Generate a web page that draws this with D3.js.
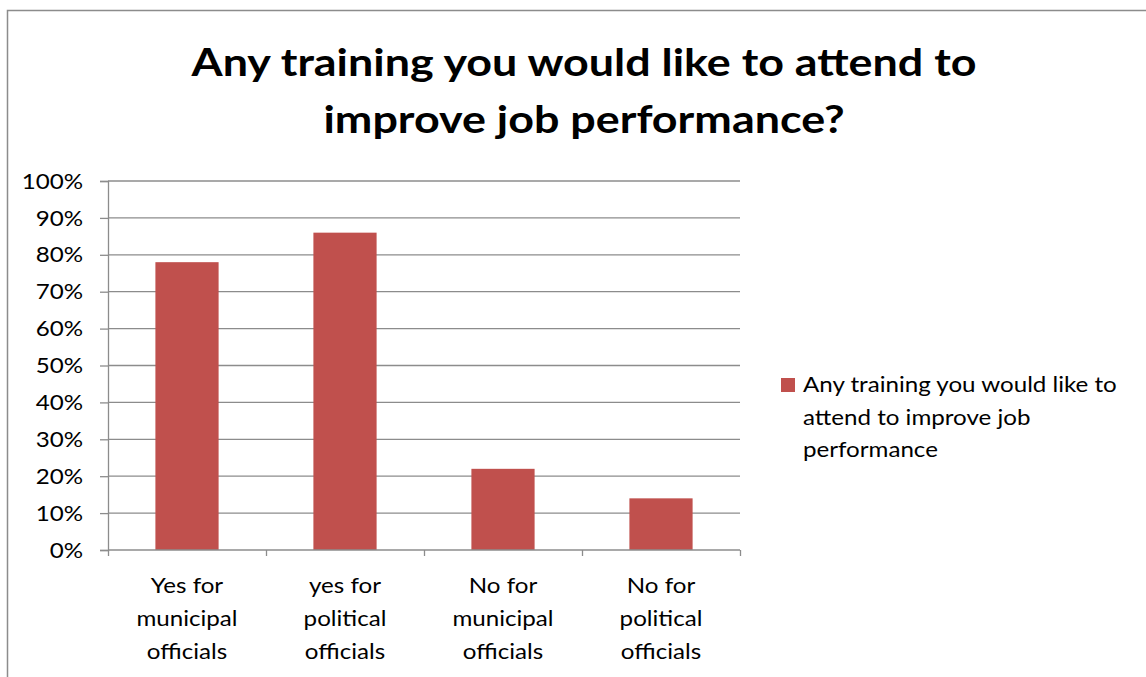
<!DOCTYPE html>
<html>
<head>
<meta charset="utf-8">
<script src="https://cdn.jsdelivr.net/npm/d3@7"></script>
<style>
  html, body { margin: 0; padding: 0; background: #fff; overflow: hidden; }
  svg { display: block; }
  text { font-family: Lato, "Open Sans", "Liberation Sans", sans-serif; fill: #000; }
</style>
</head>
<body>
<svg id="chart" width="1146" height="677"></svg>
<script>
// Chart data
const categories = [
  ["Yes for", "municipal", "officials"],
  ["yes for", "political", "officials"],
  ["No for", "municipal", "officials"],
  ["No for", "political", "officials"]
];
const values = [0.78, 0.86, 0.22, 0.14];
const yTicks = [0, 0.1, 0.2, 0.3, 0.4, 0.5, 0.6, 0.7, 0.8, 0.9, 1.0];
const titleLines = ["Any training you would like to attend to", "improve job performance?"];
const seriesName = ["Any training you would like to", "attend to improve job", "performance"];

const svg = d3.select("#chart");
const W = 1146, H = 677;
const barColor = "#C0504D";
const gridColor = "#8c8c8c";
const stretch = 1.15;     // horizontal widening of the type
const bodySize = 21;

// places a (horizontally widened) text element at (x, y)
function label(parent, x, y, str, opts = {}) {
  return parent.append("text")
    .attr("transform", `translate(${x},${y}) scale(${stretch},1)`)
    .attr("text-anchor", opts.anchor || "start")
    .attr("font-size", opts.size || bodySize)
    .attr("font-weight", opts.weight || "normal")
    .attr("dy", opts.dy || null)
    .text(str);
}

// outer frame (only left and top edges fall inside the canvas)
svg.append("rect")
  .attr("x", 7.5).attr("y", 10.5)
  .attr("width", W + 10).attr("height", H + 10)
  .attr("fill", "#fff").attr("stroke", gridColor).attr("stroke-width", 1.5);

// title
const title = svg.append("g");
titleLines.forEach((t, i) => {
  label(title, 584, 76 + i * 57, t, { anchor: "middle", size: 39, weight: "bold" });
});

const plot = { left: 108, right: 740, top: 181, bottom: 550 };
const x = d3.scaleBand().domain(d3.range(categories.length))
  .range([plot.left, plot.right]).paddingInner(0.6).paddingOuter(0.3);
const y = d3.scaleLinear().domain([0, 1]).range([plot.bottom, plot.top]);

// horizontal gridlines
svg.append("g").selectAll("line").data(yTicks.slice(1)).join("line")
  .attr("x1", plot.left).attr("x2", plot.right)
  .attr("y1", d => y(d)).attr("y2", d => y(d))
  .attr("stroke", gridColor).attr("stroke-width", 1.3);

// y axis
const yAxis = svg.append("g")
  .attr("transform", `translate(${plot.left},0)`)
  .call(d3.axisLeft(y).tickValues(yTicks).tickFormat(d3.format(".0%")).tickSize(8).tickPadding(17));
yAxis.select(".domain").attr("stroke", gridColor).attr("stroke-width", 1.3);
yAxis.selectAll(".tick line").attr("stroke", gridColor).attr("stroke-width", 1.3);
yAxis.selectAll(".tick text")
  .attr("font-size", bodySize).attr("font-family", "Lato, sans-serif").attr("fill", "#000")
  .attr("x", 0).attr("dy", "0.34em")
  .attr("transform", `translate(-25,0) scale(${stretch},1)`);

// bars
svg.append("g").selectAll("rect").data(values).join("rect")
  .attr("x", (d, i) => x(i)).attr("width", x.bandwidth())
  .attr("y", d => y(d)).attr("height", d => y(0) - y(d))
  .attr("fill", barColor);

// x axis with ticks at category boundaries
const xb = d3.scaleLinear().domain([0, categories.length]).range([plot.left, plot.right]);
const xAxis = svg.append("g")
  .attr("transform", `translate(0,${plot.bottom})`)
  .call(d3.axisBottom(xb).ticks(categories.length).tickSize(6).tickFormat(""));
xAxis.select(".domain").attr("stroke", gridColor).attr("stroke-width", 1.3).attr("d", `M${plot.left},0H${plot.right}`);
xAxis.selectAll(".tick line").attr("stroke", gridColor).attr("stroke-width", 1.3);

// category labels
const catG = svg.append("g");
categories.forEach((lines, i) => {
  const cx = xb(i + 0.5);
  lines.forEach((l, j) => {
    label(catG, cx, 593 + j * 33, l, { anchor: "middle" });
  });
});

// legend
const legend = svg.append("g");
legend.append("rect").attr("x", 781).attr("y", 378).attr("width", 14).attr("height", 14).attr("fill", barColor);
seriesName.forEach((l, j) => {
  label(legend, 803, 392 + j * 32.5, l);
});
</script>
</body>
</html>
